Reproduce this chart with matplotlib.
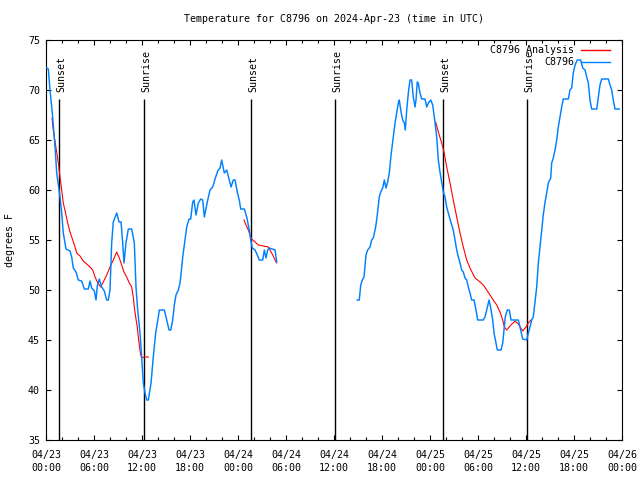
import matplotlib
matplotlib.use("Agg")
import matplotlib.pyplot as plt
from matplotlib.ticker import MultipleLocator

# ---------------- data (hours since 2024-04-23 00:00 UTC) ----------------
obs1_hours = [0.1, 0.29, 0.5, 0.79, 1.13, 1.34, 1.75, 1.96, 2.16, 2.5, 3.0, 3.21, 3.41, 3.75, 4.04,
              4.46, 4.79, 5.29, 5.5, 5.71, 6.04, 6.25, 6.41, 6.66, 6.96, 7.29, 7.59, 7.79, 8.0,
              8.21, 8.41, 8.84, 9.13, 9.38, 9.59, 9.75, 10.0, 10.29, 10.71, 11.04, 11.25, 11.46,
              11.75, 11.96, 12.16, 12.38, 12.59, 12.79, 13.13, 13.41, 13.71, 14.04, 14.16, 14.79,
              15.09, 15.38, 15.59, 15.84, 16.04, 16.25, 16.54, 16.75, 16.84, 17.09, 17.29, 17.59,
              17.88, 18.09, 18.34, 18.5, 18.75, 19.04, 19.34, 19.59, 19.79, 20.16, 20.5, 20.84,
              21.13, 21.46, 21.75, 21.96, 22.29, 22.59, 22.91, 23.13, 23.41, 23.63, 23.91, 24.16,
              24.34, 24.79, 25.09, 25.41, 25.59, 25.79, 26.13, 26.41, 26.66, 27.09, 27.29, 27.5,
              27.71, 27.91, 28.63, 28.84]
obs1_temps = [72.2, 72.1, 70.0, 67.7, 64.3, 61.7, 59.3, 57.7, 55.7, 54.1, 53.9, 53.3, 52.2, 51.8, 51.0,
              50.9, 50.1, 50.1, 50.9, 50.2, 49.9, 49.0, 50.4, 51.1, 50.3, 49.9, 49.0, 49.0, 50.0,
              54.7, 56.8, 57.7, 56.8, 56.8, 54.7, 52.7, 54.7, 56.1, 56.1, 54.7, 50.3, 48.0,
              45.7, 43.3, 40.7, 39.7, 39.0, 39.0, 40.7, 43.3, 45.7, 47.3, 48.0, 48.0,
              47.0, 46.0, 46.0, 47.0, 48.5, 49.5, 50.0, 50.7, 51.3, 53.3, 54.5, 56.3,
              57.1, 57.1, 58.8, 59.0, 57.5, 58.7, 59.1, 59.0, 57.3, 58.8, 60.0, 60.3,
              61.1, 61.9, 62.2, 63.0, 61.7, 62.0, 61.0, 60.3, 61.0, 61.0, 59.8, 59.0,
              58.1, 58.1, 57.3, 56.0, 55.0, 54.2, 54.0, 53.5, 53.0, 53.0, 54.0, 53.2,
              54.0, 54.2, 54.0, 52.8]

obs2_hours = [38.91, 39.16, 39.34, 39.54, 39.75, 40.0, 40.21, 40.5, 40.71, 40.91, 41.21, 41.41, 41.66,
              41.84, 42.09, 42.29, 42.5, 42.71, 42.91, 43.13, 43.41, 43.63, 43.84, 44.04, 44.16,
              44.38, 44.59, 44.79, 44.91, 45.09, 45.29, 45.5, 45.71, 45.91, 46.13, 46.25, 46.41,
              46.54, 46.75, 46.96, 47.38, 47.59, 47.79, 48.09, 48.34, 48.54, 48.84, 49.04, 49.25,
              49.46, 49.66, 49.88, 50.09, 50.29, 50.71, 50.91, 51.13, 51.34, 51.54, 51.75, 51.96,
              52.16, 52.38, 52.59, 52.79, 53.0, 53.21, 53.5, 53.75, 53.96, 54.66, 54.88, 55.09,
              55.38, 55.59, 55.84, 56.0, 56.25, 56.41, 56.88, 57.09, 57.25, 57.41, 57.66, 57.91,
              58.13, 59.04, 59.25, 59.59, 60.09, 60.29, 60.5, 60.71, 60.91, 61.13, 61.34, 61.54,
              61.75, 61.96, 62.16, 62.38, 62.59, 62.79, 63.09, 63.21, 63.41, 63.63, 63.84, 64.04,
              64.25, 64.46, 64.66, 65.29, 65.5, 65.71, 65.91, 66.13, 66.41, 66.84, 67.09, 67.38,
              67.59, 67.79, 68.0, 68.21, 68.84, 69.04, 69.25, 69.46, 70.29, 70.5, 70.71, 70.91,
              71.13, 71.66]
obs2_temps = [49.0, 49.0, 50.5, 51.0, 51.3, 53.5, 54.0, 54.3, 55.0, 55.2, 56.3, 57.5, 59.3,
              59.8, 60.2, 61.0, 60.2, 60.8, 61.7, 63.5, 65.3, 66.7, 67.7, 68.7, 69.0,
              67.8, 67.0, 66.7, 66.0, 68.0, 69.7, 71.0, 71.0, 69.3, 68.3, 69.0, 70.8,
              70.7, 69.7, 69.1, 69.1, 68.3, 68.7, 69.0, 68.5, 67.3, 65.3, 63.0, 61.8,
              60.8, 59.8, 59.3, 58.3, 57.7, 56.5, 56.0, 55.0, 54.0, 53.3, 52.7, 52.0,
              51.8, 51.2, 51.0, 50.3, 49.7, 49.0, 49.0, 48.0, 47.0, 47.0, 47.3, 48.0,
              49.0, 48.2, 47.0, 45.7, 44.7, 44.0, 44.0, 44.7, 46.0, 47.3, 48.0, 48.0,
              47.0, 47.0, 46.3, 45.1, 45.0, 45.7, 46.3, 47.0, 47.3, 48.8, 50.3, 52.7,
              54.3, 55.8, 57.5, 58.8, 59.7, 60.7, 61.2, 62.7, 63.2, 64.0, 65.0, 66.3,
              67.3, 68.3, 69.1, 69.1, 70.0, 70.2, 71.7, 72.5, 73.0, 73.0, 72.2, 72.0,
              71.3, 70.7, 69.0, 68.1, 68.1, 69.3, 70.5, 71.1, 71.1, 70.5, 70.0, 69.0,
              68.1, 68.1]

ana1_hours = [0.75, 0.91, 1.54, 1.75, 1.96, 2.16, 2.5, 2.71, 3.0, 3.34, 3.63, 3.84, 4.25, 4.66,
              5.09, 5.5, 5.84, 6.13, 6.41, 6.84, 7.16, 7.59, 8.0, 8.41, 8.84, 9.16, 9.46, 9.75,
              10.09, 10.41, 10.71, 10.91, 11.04, 11.21, 11.41, 11.54, 11.66, 11.84, 11.96, 12.25,
              12.79]
ana1_temps = [67.2, 66.0, 62.7, 61.3, 60.0, 58.7, 57.5, 56.7, 55.8, 55.0, 54.3, 53.7, 53.4, 52.9,
              52.6, 52.3, 52.0, 51.3, 50.8, 50.3, 50.8, 51.5, 52.3, 53.0, 53.8, 53.2, 52.5, 51.8,
              51.3, 50.7, 50.3, 49.3, 48.3, 47.3, 46.3, 45.3, 44.5, 43.5, 43.2, 43.3,
              43.3]

ana2_hours = [24.75, 25.0, 25.29, 25.5, 25.71, 26.13, 26.54, 27.16, 27.79, 28.0, 28.34, 28.63, 28.84]
ana2_temps = [57.0, 56.5, 56.0, 55.5, 55.1, 54.8, 54.5, 54.4, 54.3, 54.0, 53.5, 53.0, 52.7]

ana3_hours = [48.71, 49.04, 49.46, 49.75, 50.09, 50.5, 50.91, 51.34, 51.75, 52.16, 52.59, 53.0,
              53.63, 54.25, 54.66, 55.09, 55.5, 55.91, 56.34, 56.75, 57.09, 57.29, 57.59, 58.0,
              58.63, 59.04, 59.59, 60.0, 60.29, 60.63]
ana3_temps = [66.8, 65.8, 64.7, 63.8, 62.3, 60.7, 59.0, 57.3, 55.7, 54.3, 53.0, 52.2,
              51.2, 50.8, 50.5, 50.0, 49.5, 49.0, 48.5, 47.8, 47.0, 46.3, 46.0, 46.4,
              46.9, 46.6, 45.9, 46.3, 46.7, 47.0]

sun_hours = [1.67, 12.29, 25.67, 36.13, 49.66, 60.16]
sun_labels = ["Sunset", "Sunrise", "Sunset", "Sunrise", "Sunset", "Sunrise"]

xtick_hours = [0, 6, 12, 18, 24, 30, 36, 42, 48, 54, 60, 66, 72]
xtick_labels = ["04/23\n00:00", "04/23\n06:00", "04/23\n12:00", "04/23\n18:00",
                "04/24\n00:00", "04/24\n06:00", "04/24\n12:00", "04/24\n18:00",
                "04/25\n00:00", "04/25\n06:00", "04/25\n12:00", "04/25\n18:00",
                "04/26\n00:00"]
ytick_values = [35, 40, 45, 50, 55, 60, 65, 70, 75]

title = "Temperature for C8796 on 2024-Apr-23 (time in UTC)"
ylabel = "degrees F"
legend_labels = ["C8796 Analysis", "C8796"]

RED = "#ff0000"
BLUE = "#0080ff"

# ---------------- figure ----------------
plt.rcParams['font.family'] = ['DejaVu Sans Mono']
FS = 7.2

fig = plt.figure(figsize=(6.4, 4.8), dpi=100)
W, H = 640, 480
ax = fig.add_axes([46 / W, 1 - 440 / H, 576 / W, 400 / H])

for hx, hy in [(ana1_hours, ana1_temps), (ana2_hours, ana2_temps), (ana3_hours, ana3_temps)]:
    ax.plot(hx, hy, color=RED, lw=0.8, zorder=3)
for hx, hy in [(obs1_hours, obs1_temps), (obs2_hours, obs2_temps)]:
    ax.plot(hx, hy, color=BLUE, lw=1.05, zorder=4)

ax.set_xlim(0, 72)
ax.set_ylim(35, 75)

for sh, sl in zip(sun_hours, sun_labels):
    ax.vlines(sh, 35, 69.1, color="black", lw=1.0, zorder=2)
    ax.annotate(sl, xy=(sh, 69.8), xytext=(1.8, 0), textcoords="offset points",
                rotation=90, ha="center", va="bottom", fontsize=FS, zorder=5)

ax.set_xticks(xtick_hours)
ax.set_xticklabels(xtick_labels, fontsize=FS, linespacing=1.45)
ax.xaxis.set_minor_locator(MultipleLocator(2))
ax.set_yticks(ytick_values)
ax.set_yticklabels([str(v) for v in ytick_values], fontsize=FS)

ax.tick_params(axis="both", which="major", direction="in", length=3.3, width=0.8,
               top=True, right=True, colors="black")
ax.tick_params(axis="both", which="minor", direction="in", length=2.2, width=0.8,
               top=True, right=True)
ax.tick_params(axis="x", which="major", pad=7.0)
ax.tick_params(axis="y", which="major", pad=4.3)
for sp in ax.spines.values():
    sp.set_linewidth(0.8)
    sp.set_color("black")

# legend (gnuplot style: right-aligned text followed by sample line)
leg_y = [0.975, 0.945]
leg_colors = [RED, BLUE]
for lab, yy, cc in zip(legend_labels, leg_y, leg_colors):
    ax.text(0.9167, yy, lab, transform=ax.transAxes, ha="right", va="center",
            fontsize=FS, zorder=6)
    ax.plot([0.9288, 0.9792], [yy, yy], transform=ax.transAxes, color=cc, lw=1.0,
            zorder=6, clip_on=False)

fig.text(334 / W, 1 - 19 / H, title, ha="center", va="center", fontsize=FS)
fig.text(10 / W, 0.5, ylabel, rotation=90, ha="center", va="center", fontsize=FS)

fig.savefig("out.png", dpi=100)
